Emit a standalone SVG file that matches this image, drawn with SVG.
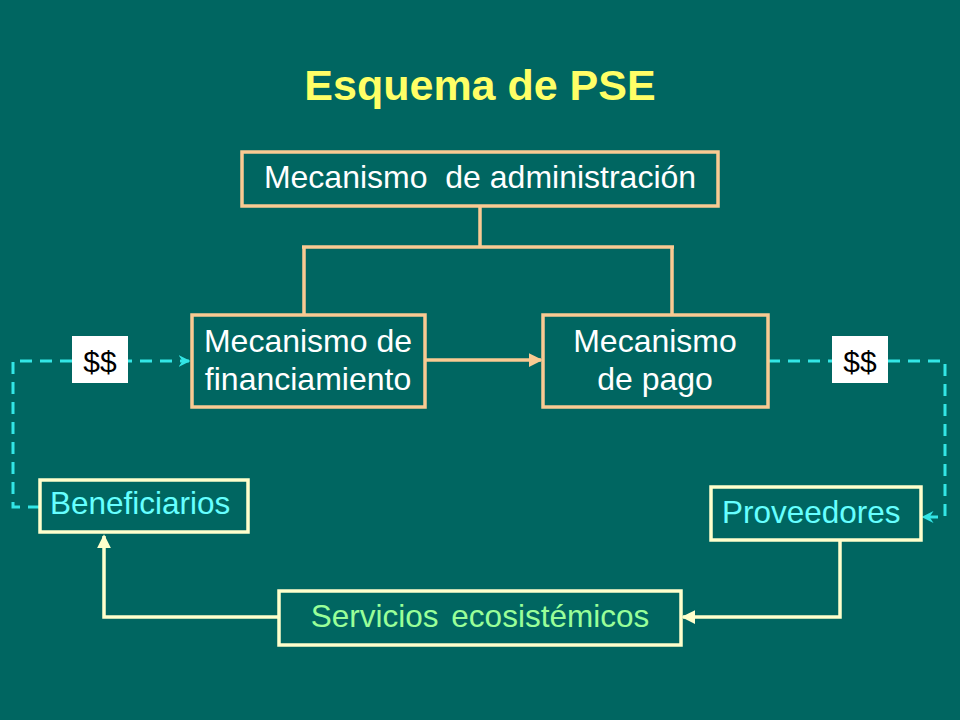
<svg xmlns="http://www.w3.org/2000/svg" width="960" height="720" viewBox="0 0 960 720">
<style>
.box{fill:#006661;stroke:#F9CA92;stroke-width:3.5}
.cbox{fill:#006661;stroke:#FFFFCC;stroke-width:3.5}
.money{fill:#FFFFFF;stroke:none}
.t{font-family:"Liberation Sans",Arial,sans-serif;font-size:32px;fill:#FFFFFF;text-anchor:middle}
.cy{fill:#66FFFF;text-anchor:start;font-size:31.5px}
.gr{fill:#99FF99;font-size:31.5px;word-spacing:4px}
.dl{font-family:"Liberation Sans",Arial,sans-serif;font-size:30px;fill:#000000;text-anchor:middle}
.pc{fill:none;stroke:#F9CA92;stroke-width:3.5}
.cc{fill:none;stroke:#FFFFCC;stroke-width:3.5}
.dc{fill:none;stroke:#33E6E6;stroke-width:3;stroke-dasharray:12 8}
</style>
<defs>
<marker id="ap" markerWidth="4" markerHeight="4" refX="3.5" refY="2" orient="auto" markerUnits="strokeWidth"><path d="M0,0 L4,2 L0,4 Z" fill="#F9CA92"/></marker>
<marker id="ac" markerWidth="4" markerHeight="4" refX="3.5" refY="2" orient="auto" markerUnits="strokeWidth"><path d="M0,0 L4,2 L0,4 Z" fill="#FFFFCC"/></marker>
<marker id="ad" markerWidth="4" markerHeight="4" refX="3.5" refY="2" orient="auto" markerUnits="strokeWidth"><path d="M0,0 L4,2 L0,4 L1.3,2 Z" fill="#33E6E6"/></marker>
</defs>
<rect x="0" y="0" width="960" height="720" fill="#006661"/>
<text x="480" y="100" font-family="Liberation Sans,Arial,sans-serif" font-size="43" font-weight="bold" fill="#FFFF66" text-anchor="middle">Esquema de PSE</text>
<g id="connectors">
<path class="pc" d="M480,206 V247 M302,247 H674 M304,247 V315 M672,247 V315"/>
<path class="pc" d="M425,360 H541" marker-end="url(#ap)"/>
<path class="dc" d="M40,507 H13 V361 H189" marker-end="url(#ad)"/>
<path class="dc" d="M768,361 H945 V517 H923" marker-end="url(#ad)"/>
<path class="cc" d="M279,617 H104 V536" marker-end="url(#ac)"/>
<path class="cc" d="M840,540 V617 H683" marker-end="url(#ac)"/>
</g>
<g id="admin"><rect class="box" x="242" y="152" width="476" height="54"/><text class="t" x="480" y="188" xml:space="preserve">Mecanismo  de administración</text></g>
<g id="financiamiento"><rect class="box" x="192" y="315" width="233" height="92"/><text class="t" x="308" y="352">Mecanismo de</text><text class="t" x="308" y="390">financiamiento</text></g>
<g id="pago"><rect class="box" x="543" y="315" width="225" height="92"/><text class="t" x="655" y="352">Mecanismo</text><text class="t" x="655" y="390">de pago</text></g>
<g id="money-left"><rect class="money" x="72" y="336" width="56" height="47"/><text class="dl" x="100" y="372">$$</text></g>
<g id="money-right"><rect class="money" x="832" y="336" width="56" height="47"/><text class="dl" x="860" y="372">$$</text></g>
<g id="beneficiarios"><rect class="cbox" x="40" y="480" width="208" height="52"/><text class="t cy" x="50" y="514">Beneficiarios</text></g>
<g id="proveedores"><rect class="cbox" x="711" y="487" width="210" height="53"/><text class="t cy" x="722" y="523">Proveedores</text></g>
<g id="servicios"><rect class="cbox" x="279" y="591" width="402" height="54"/><text class="t gr" x="480" y="627">Servicios ecosistémicos</text></g>
</svg>
